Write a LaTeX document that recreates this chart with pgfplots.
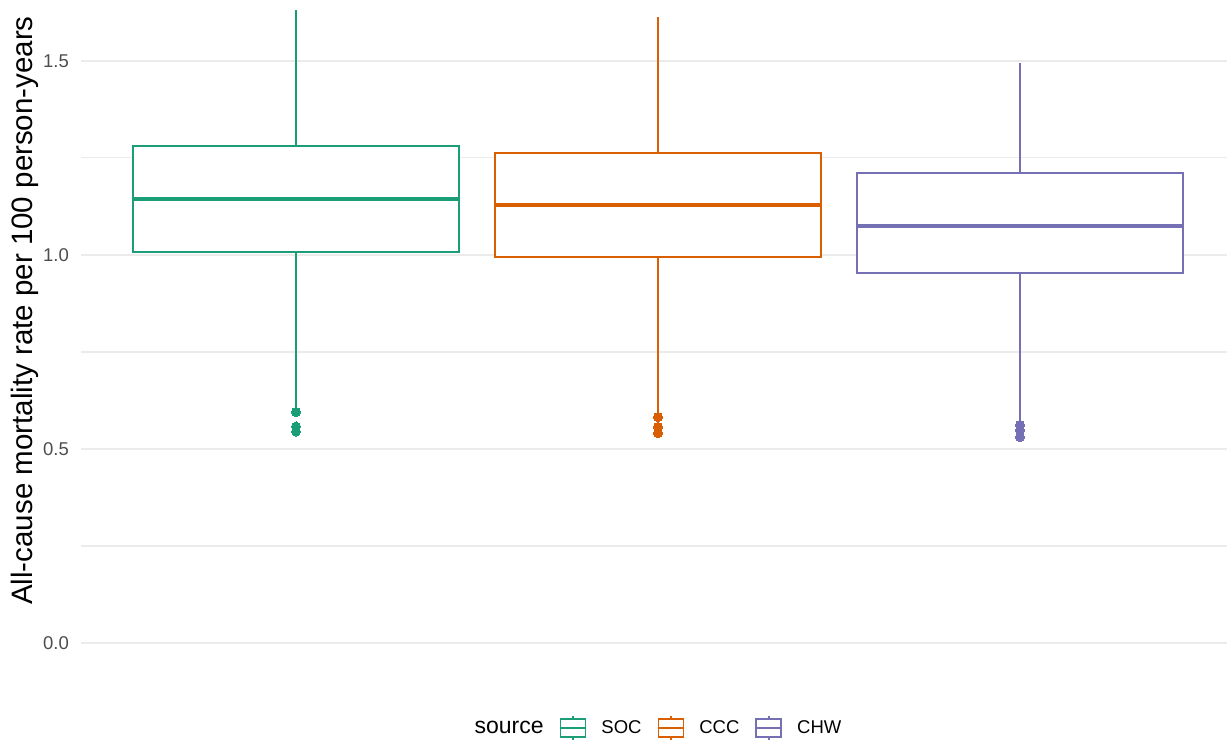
\documentclass[border=0pt]{standalone}
\usepackage{pgfplots}
\pgfplotsset{compat=1.18}
\usepackage{fontspec}
\setmainfont{Liberation Sans}
\definecolor{soc}{HTML}{1B9E77}
\definecolor{ccc}{HTML}{D95F02}
\definecolor{chw}{HTML}{7570B3}
\definecolor{gridc}{HTML}{EBEBEB}
\definecolor{tickc}{HTML}{4D4D4D}
\usepgfplotslibrary{statistics}
\begin{document}
\begin{tikzpicture}
\begin{axis}[
  scale only axis,
  width=1146pt, height=676pt,
  at={(0,0)}, anchor=south west,
  xmin=0.406, xmax=3.572,
  ymin=-0.085, ymax=1.657,
  xtick=\empty,
  ytick={0,0.5,1,1.5},
  minor ytick={0.25,0.75,1.25},
  ymajorgrids, yminorgrids,
  major grid style={draw=gridc, line width=2.2pt},
  minor grid style={draw=gridc, line width=1.1pt},
  axis line style={draw=none},
  tick style={draw=none},
  major tick length=0pt, minor tick length=0pt,
  /pgf/number format/assume math mode=true,
  yticklabel={\pgfmathprintnumber[fixed,fixed zerofill,precision=1]{\tick}},
  yticklabel style={font=\fontsize{18.5}{20}\selectfont, color=tickc, anchor=east, inner sep=0pt, xshift=-12pt},
  ylabel={All-cause mortality rate per 100 person-years},
  ylabel style={font=\fontsize{29.5}{32}\selectfont, at={(axis description cs:0,0.5407)}, anchor=center, yshift=56pt, inner sep=0pt},
  boxplot/draw direction=y,
  boxplot/every median/.style={line width=4pt},
  legend columns=4,
  legend style={draw=none, fill=none, at={(axis description cs:0.5,0)}, anchor=center, yshift=-52pt, xshift=-3.5pt,
    font=\fontsize{18.5}{20}\selectfont,
    nodes={inner sep=0pt},
    /tikz/every odd column/.append style={column sep=15pt},
    /tikz/every even column/.append style={column sep=16pt}},
  legend image code/.code={
    \draw[#1, line width=1.8pt, fill=white] (0pt,-9pt) rectangle (25pt,9pt);
    \draw[#1, line width=1.8pt] (0pt,0pt) -- (25pt,0pt);
    \draw[#1, line width=1.8pt] (12.5pt,9pt) -- (12.5pt,12pt);
    \draw[#1, line width=1.8pt] (12.5pt,-9pt) -- (12.5pt,-12pt);
  },
]
\addlegendimage{empty legend}
\addlegendentry{\fontsize{23}{25}\selectfont source}
\addlegendimage{color=soc}
\addlegendentry{SOC}
\addlegendimage{color=ccc}
\addlegendentry{CCC}
\addlegendimage{color=chw}
\addlegendentry{CHW}

\addplot[soc, line width=1.8pt, fill=white, forget plot, boxplot prepared={draw position=1, lower whisker=0.605, lower quartile=1.008, median=1.144, upper quartile=1.281, upper whisker=1.631, box extend=0.9, whisker extend=0}] coordinates {};
\addplot[ccc, line width=1.8pt, fill=white, forget plot, boxplot prepared={draw position=2, lower whisker=0.59, lower quartile=0.995, median=1.129, upper quartile=1.263, upper whisker=1.613, box extend=0.9, whisker extend=0}] coordinates {};
\addplot[chw, line width=1.8pt, fill=white, forget plot, boxplot prepared={draw position=3, lower whisker=0.57, lower quartile=0.954, median=1.075, upper quartile=1.211, upper whisker=1.495, box extend=0.9, whisker extend=0}] coordinates {};

\addplot[only marks, forget plot, mark=*, mark size=4.5pt, mark options={draw=soc, fill=soc, line width=0pt}] coordinates {(1,0.595) (1,0.558) (1,0.545)};
\addplot[only marks, forget plot, mark=*, mark size=4.5pt, mark options={draw=ccc, fill=ccc, line width=0pt}] coordinates {(2,0.582) (2,0.557) (2,0.541)};
\addplot[only marks, forget plot, mark=*, mark size=4.5pt, mark options={draw=chw, fill=chw, line width=0pt}] coordinates {(3,0.562) (3,0.549) (3,0.531)};
\end{axis}
\pgfresetboundingbox
\useasboundingbox (-81pt,-67pt) rectangle (1146pt,676pt);
\end{tikzpicture}
\end{document}
